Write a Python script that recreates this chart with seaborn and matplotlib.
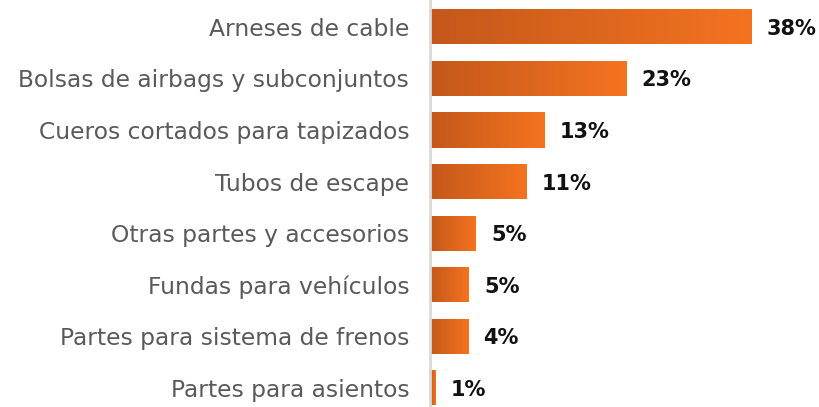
import numpy as np
import pandas as pd
import seaborn as sns
import matplotlib.pyplot as plt
from matplotlib.colors import LinearSegmentedColormap

categories = [
  'Arneses de cable',
  'Bolsas de airbags y subconjuntos',
  'Cueros cortados para tapizados',
  'Tubos de escape',
  'Otras partes y accesorios',
  'Fundas para vehículos',
  'Partes para sistema de frenos',
  'Partes para asientos',
]
shares = [38.0, 23.2, 13.5, 11.4, 5.4, 4.6, 4.5, 0.6]
share_labels = ['38%', '23%', '13%', '11%', '5%', '5%', '4%', '1%']

df = pd.DataFrame({'categoria': categories, 'share': shares, 'label': share_labels})

sns.set_style('white')
plt.rcParams['font.family'] = ['DejaVu Sans']

fig = plt.figure(figsize=(8.19, 4.07), dpi=100)
ax = fig.add_axes([430 / 819, 0, 1 - 430 / 819, 1])

sns.barplot(data=df, x='share', y='categoria', orient='h', width=0.68,
            color='#F47320', edgecolor='none', ax=ax)

# gradient fill, dark left -> bright right, clipped to each bar
cmap = LinearSegmentedColormap.from_list('naranja', ['#C4581A', '#F47320'])
grad = np.linspace(0, 1, 256).reshape(1, -1)
for i, bar in enumerate(ax.patches):
  x0, y0 = bar.get_x(), bar.get_y()
  w, h = bar.get_width(), bar.get_height()
  im = ax.imshow(grad, cmap=cmap, aspect='auto', extent=(x0, x0 + w, y0 + h, y0),
                 zorder=bar.get_zorder() + 0.1, interpolation='bicubic')
  im.set_clip_path(bar)
  ax.annotate(df['label'].iloc[i], xy=(x0 + w, y0 + h / 2),
              xytext=(11, 0), textcoords='offset points', va='center_baseline', ha='left',
              fontsize=15, fontweight='bold', color='#111111')

ax.set_xlim(0, 46)
ax.set_ylim(7.37, -0.52)
ax.set_xlabel('')
ax.set_ylabel('')
ax.set_xticks([])
ax.tick_params(axis='y', length=0, pad=15, labelsize=16.8, labelcolor='#5a5a5a')
for lbl in ax.get_yticklabels():
  lbl.set_va('center_baseline')

for side in ['top', 'right', 'bottom']:
  ax.spines[side].set_visible(False)
ax.spines['left'].set_color('#D9D9D9')
ax.spines['left'].set_linewidth(2)

fig.savefig('out.png', dpi=100)
